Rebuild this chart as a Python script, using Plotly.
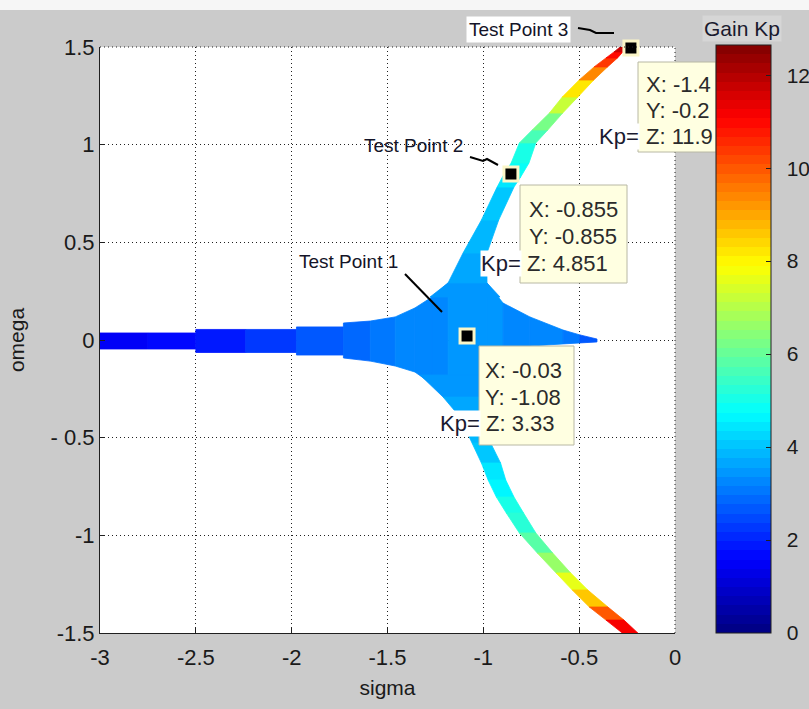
import plotly.graph_objects as go

KP_MAX = 12.65

# ---- real-axis branch: sigma samples with upper / lower omega edges ----
real_sigma = [-3.00, -2.75, -2.50, -2.50, -2.24, -1.975, -1.975, -1.73, -1.73,
              -1.59, -1.46, -1.357, -1.268, -1.184, -0.981, -0.897, -0.757,
              -0.584, -0.496, -0.407]
real_top = [0.036, 0.036, 0.036, 0.054, 0.054, 0.054, 0.067, 0.067, 0.087,
            0.097, 0.118, 0.164, 0.220, 0.292, 0.292, 0.189, 0.118,
            0.051, 0.026, 0.005]
real_bot = [-0.046, -0.046, -0.046, -0.064, -0.064, -0.064, -0.077, -0.077, -0.092,
            -0.108, -0.133, -0.164, -0.225, -0.270, -0.307, -0.036, -0.031,
            -0.020, -0.015, -0.010]
# gain on each segment between consecutive samples
real_seg_kp = [1.45, 1.6, 1.6, 1.95, 2.2, 2.2, 2.6, 2.6, 2.95,
               3.1, 3.2, 3.3, 3.35, 3.45, 3.4, 3.3, 3.2, 3.0, 2.6]

# ---- upper complex branch: omega samples with left / right sigma edges ----
up_omega = [0.220, 0.292, 0.445, 0.614, 0.783, 0.835, 0.906, 1.009,
            1.075, 1.162, 1.244, 1.331, 1.398, 1.444, 1.475, 1.505]
up_left = [-1.278, -1.184, -1.106, -1.010, -0.928, -0.900, -0.855, -0.812,
           -0.745, -0.655, -0.588, -0.500, -0.422, -0.360, -0.318, -0.280]
up_right = [-0.913, -0.981, -0.981, -0.920, -0.840, -0.805, -0.762, -0.726,
            -0.664, -0.586, -0.507, -0.424, -0.352, -0.300, -0.272, -0.220]
up_seg_kp = [3.45, 3.6, 3.85, 4.15, 4.5, 4.8, 5.1, 5.6, 6.3, 7.2, 8.2,
             9.3, 10.3, 11.0, 11.7]

# ---- lower complex branch ----
lo_omega = [-0.179, -0.292, -0.394, -0.527, -0.630, -0.717, -0.804, -0.886,
            -0.988, -1.091, -1.193, -1.280, -1.367, -1.434, -1.500]
lo_left = [-1.330, -1.210, -1.122, -1.059, -1.010, -0.975, -0.932, -0.880,
           -0.812, -0.718, -0.620, -0.536, -0.447, -0.360, -0.275]
lo_right = [-0.939, -0.955, -0.965, -0.962, -0.910, -0.883, -0.840, -0.790,
            -0.726, -0.638, -0.544, -0.455, -0.350, -0.266, -0.194]
lo_seg_kp = [3.45, 3.6, 3.8, 4.05, 4.35, 4.65, 4.95, 5.3, 5.9, 6.7, 7.6,
             8.6, 9.9, 11.2]

# ---- selected test points ----
tp_names = ["Test Point 1", "Test Point 2", "Test Point 3"]
tp_sigma = [-1.085, -0.856, -0.230]
tp_omega = [0.020, 0.850, 1.495]
tp_kp = [3.33, 4.851, 11.9]
tp_tip_x = ["X: -0.03", "X: -0.855", "X: -1.4"]
tp_tip_y = ["Y: -1.08", "Y: -0.855", "Y: -0.2"]
tp_tip_z = ["Z: 3.33", "Z: 4.851", "Z: 11.9"]

x_ticks = [-3, -2.5, -2, -1.5, -1, -0.5, 0]
x_tick_text = ["-3", "-2.5", "-2", "-1.5", "-1", "-0.5", "0"]
y_ticks = [-1.5, -1, -0.5, 0, 0.5, 1, 1.5]
y_tick_text = ["-1.5", "-1", "- 0.5", "0", "0.5", "1", "1.5"]
cb_ticks = [0, 2, 4, 6, 8, 10, 12]
cb_tick_text = ["0", "2", "4", "6", "8", "10", "12"]

FONT = "Liberation Sans, Arial, sans-serif"


def jet_t(t):
    t = min(max(t, 0.0), 1.0)
    def c(v):
        return int(round(255 * min(max(v, 0.0), 1.0)))
    return (c(1.5 - abs(4 * t - 3)), c(1.5 - abs(4 * t - 2)), c(1.5 - abs(4 * t - 1)))


def jet_kp(kp):
    k = min(int(kp / KP_MAX * 64), 63)
    r, g, b = jet_t((k + 0.5) / 64)
    return f"rgb({r},{g},{b})"


# 64-level stepped jet colormap for the colorbar
jet_scale = []
for k in range(64):
    r, g, b = jet_t((k + 0.5) / 64)
    col = f"rgb({r},{g},{b})"
    jet_scale.append([k / 64, col])
    jet_scale.append([(k + 1) / 64, col])

fig = go.Figure()


def add_patch(xs, ys, kp):
    col = jet_kp(kp)
    fig.add_trace(go.Scatter(x=xs, y=ys, mode="lines", fill="toself",
                             fillcolor=col, line=dict(color=col, width=0.8),
                             hoverinfo="skip", showlegend=False))


for i in range(len(real_sigma) - 1):
    if real_sigma[i] == real_sigma[i + 1]:
        continue
    add_patch([real_sigma[i], real_sigma[i + 1], real_sigma[i + 1], real_sigma[i], real_sigma[i]],
              [real_top[i], real_top[i + 1], real_bot[i + 1], real_bot[i], real_top[i]],
              real_seg_kp[i])

for om, le, ri, kps in ((up_omega, up_left, up_right, up_seg_kp),
                        (lo_omega, lo_left, lo_right, lo_seg_kp)):
    for i in range(len(om) - 1):
        add_patch([le[i], ri[i], ri[i + 1], le[i + 1], le[i]],
                  [om[i], om[i], om[i + 1], om[i + 1], om[i]],
                  kps[i])

# gain colour scale carried by the test points
fig.add_trace(go.Scatter(
    x=tp_sigma, y=tp_omega, mode="markers", hoverinfo="skip", showlegend=False,
    marker=dict(size=1, opacity=0, color=tp_kp, colorscale=jet_scale,
                cmin=0, cmax=KP_MAX, showscale=True,
                colorbar=dict(x=(716 - 100) / 575, xanchor="left", xpad=0,
                              y=(633 - 45) / 586, yanchor="top", ypad=0,
                              lenmode="pixels", len=588,
                              thicknessmode="pixels", thickness=55,
                              outlinecolor="#202020", outlinewidth=1,
                              tickmode="array", tickvals=cb_ticks,
                              ticktext=["\u2002" + t for t in cb_tick_text],
                              ticks="inside", ticklen=5, tickcolor="#202020",
                              tickfont=dict(family=FONT, size=21, color="#1a1a1a")))))

# test point markers
fig.add_trace(go.Scatter(
    x=tp_sigma, y=tp_omega, mode="markers", hoverinfo="skip", showlegend=False,
    cliponaxis=False,
    marker=dict(symbol="square", size=14, color="black",
                line=dict(color="#fbf6c8", width=3))))


def px(x):
    return (x - 100) / 575


def py(y):
    return (633 - y) / 586


shapes = [
    dict(type="rect", xref="paper", yref="paper", x0=px(0), x1=px(809),
         y0=py(10), y1=py(0), fillcolor="#f6f6f6", line=dict(width=0), layer="below"),
    dict(type="line", xref="paper", yref="paper", x0=0, x1=1, y0=1, y1=1,
         line=dict(color="#202020", width=1, dash="1px,3px"), layer="above"),
    dict(type="line", xref="paper", yref="paper", x0=1, x1=1, y0=0, y1=1,
         line=dict(color="#202020", width=1, dash="1px,3px"), layer="above"),
]

# data-tip boxes
tip_boxes = [(479, 346, 574, 445), (520, 185, 627, 283), (638, 62, 716, 152)]
for x0, y0, x1, y1 in tip_boxes:
    shapes.append(dict(type="rect", xref="paper", yref="paper",
                       x0=px(x0), x1=px(x1), y0=py(y1), y1=py(y0),
                       fillcolor="#ffffe1", line=dict(color="#b8b8a4", width=1),
                       layer="above"))

# leader lines from the labels
shapes.append(dict(type="line", xref="paper", yref="paper",
                   x0=px(405), y0=py(274), x1=px(442), y1=py(312),
                   line=dict(color="black", width=2)))
shapes.append(dict(type="path", xref="paper", yref="paper",
                   path=f"M {px(470)} {py(157)} L {px(483)} {py(161)} L {px(487)} {py(159)} L {px(498)} {py(165)}",
                   line=dict(color="black", width=2)))
shapes.append(dict(type="path", xref="paper", yref="paper",
                   path=f"M {px(578)} {py(28)} L {px(590)} {py(30)} L {px(596)} {py(33)} L {px(614)} {py(33)}",
                   line=dict(color="black", width=2)))

annotations = []
tip_text_pos = [((483, 370), (483, 397), (484, 423), 481),
                ((527, 209), (527, 236), (525, 263), 522),
                ((644, 84), (644, 110), (644, 137), 640)]
tipfont = dict(family=FONT, size=22, color="#2b2b2b")
for i, (pX, pY, pZ, kx) in enumerate(tip_text_pos):
    for txt, (ax_, ay_) in ((tp_tip_x[i], pX), (tp_tip_y[i], pY), (tp_tip_z[i], pZ)):
        annotations.append(dict(xref="paper", yref="paper", x=px(ax_), y=py(ay_),
                                text=txt, showarrow=False, xanchor="left",
                                yanchor="middle", font=tipfont))
    annotations.append(dict(xref="paper", yref="paper", x=px(kx), y=py(pZ[1]),
                            text="Kp=", showarrow=False, xanchor="right",
                            yanchor="middle", bgcolor="white", borderpad=0,
                            font=dict(family=FONT, size=22, color="#1a1a30")))

label_pos = [(348, 261, None), (413, 145, None), (518, 30, "white")]
for name, (lx, ly, bg) in zip(tp_names, label_pos):
    a = dict(xref="paper", yref="paper", x=px(lx), y=py(ly), text=name,
             showarrow=False, xanchor="center", yanchor="middle",
             font=dict(family=FONT, size=19, color="#141428"))
    if bg:
        a["bgcolor"] = bg
        a["borderpad"] = 2
    annotations.append(a)

annotations.append(dict(xref="paper", yref="paper", x=px(742), y=py(28),
                        text="Gain Kp", showarrow=False, xanchor="center",
                        yanchor="middle", bgcolor="#d6d6d6",
                        font=dict(family=FONT, size=21, color="#1a1a2e")))

axis_common = dict(showline=True, linecolor="#202020", linewidth=1, mirror=False,
                   ticks="inside", ticklen=5, tickcolor="#202020",
                   showgrid=True, gridcolor="#202020", gridwidth=1, griddash="1px,3px",
                   zeroline=False,
                   tickfont=dict(family=FONT, size=22, color="#1a1a1a"))

fig.update_layout(
    width=809, height=709,
    margin=dict(l=100, r=134, t=47, b=76, autoexpand=False),
    paper_bgcolor="#cbcbcb", plot_bgcolor="white",
    xaxis=dict(range=[-3, 0], tickvals=x_ticks, ticktext=x_tick_text,
               ticklabelstandoff=5,
               title=dict(text="sigma", standoff=10,
                          font=dict(family=FONT, size=21, color="#1a1a1a")),
               **axis_common),
    yaxis=dict(range=[-1.5, 1.5], tickvals=y_ticks, ticktext=y_tick_text,
               title=dict(text="omega", standoff=20,
                          font=dict(family=FONT, size=21, color="#1a1a1a")),
               **axis_common),
    shapes=shapes, annotations=annotations,
    showlegend=False,
)

fig.write_html("out.html")
